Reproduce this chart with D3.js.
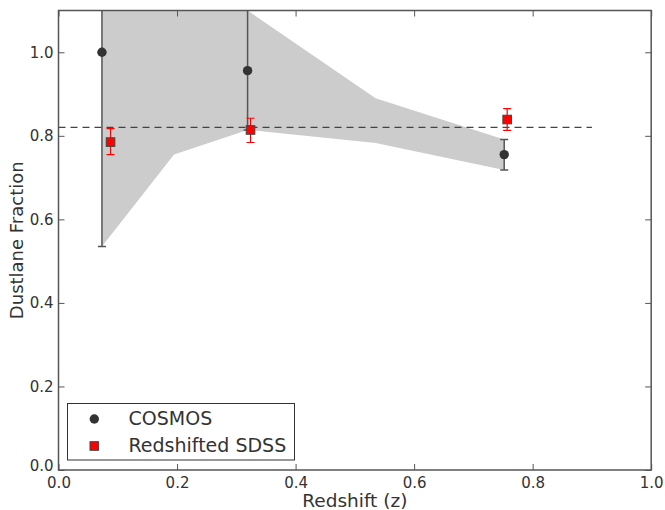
<!DOCTYPE html>
<html><head><meta charset="utf-8">
<script src="https://cdn.jsdelivr.net/npm/d3@7"></script>
<style>body{margin:0;background:#fff;}svg{display:block;font-family:"DejaVu Sans",sans-serif;}</style>
</head><body><svg id="c" width="665" height="510"></svg>
<script>
// COSMOS data
const cosmosZ = [0.0733, 0.319, 0.752];
const cosmosF = [1.0, 0.956, 0.755];
const cosmosLo = [0.535, 0.814, 0.718];
const cosmosHi = [1.465, 1.40, 0.791];
// Redshifted SDSS data
const sdssZ = [0.0878, 0.324, 0.757];
const sdssF = [0.785, 0.814, 0.839];
const sdssLo = [0.755, 0.784, 0.813];
const sdssHi = [0.817, 0.842, 0.865];
// shaded band
const bandZ = [0.0733, 0.195, 0.319, 0.535, 0.752];
const bandLo = [0.535, 0.755, 0.814, 0.783, 0.718];
const bandHi = [1.465, 1.35, 1.10, 0.890, 0.791];
// reference line
const refLevel = 0.82;
const refZ = [0.0, 0.9];
const xTicks = [0.0, 0.2, 0.4, 0.6, 0.8, 1.0];
const yTicks = [0.0, 0.2, 0.4, 0.6, 0.8, 1.0];
const legendLabels = ["COSMOS", "Redshifted SDSS"];

const svg = d3.select("#c");
const L = 58.5, R = 651.2, T = 10.5, B = 470;
const x = d3.scaleLinear().domain([0, 1]).range([L, R]);
const y = d3.scaleLinear().domain([0, 1.1]).range([B, T]);

svg.append("defs").append("clipPath").attr("id", "clip")
  .append("rect").attr("x", L).attr("y", T).attr("width", R - L).attr("height", B - T);
const g = svg.append("g").attr("clip-path", "url(#clip)");

// band
const band = bandZ.map((z, i) => ({z, lo: bandLo[i], hi: bandHi[i]}));
g.append("path").datum(band)
  .attr("d", d3.area().x(d => x(d.z)).y0(d => y(d.lo)).y1(d => y(d.hi)))
  .attr("fill", "#cccccc");

// dashed line
g.append("line").attr("x1", x(refZ[0])).attr("x2", x(refZ[1]))
  .attr("y1", y(refLevel)).attr("y2", y(refLevel))
  .attr("stroke", "#444").attr("stroke-width", 1.2).attr("stroke-dasharray", "7,5");

// COSMOS error bars
const cosmos = cosmosZ.map((z, i) => ({z, f: cosmosF[i], lo: cosmosLo[i], hi: cosmosHi[i]}));
const cg = g.append("g");
cosmos.forEach(d => {
  cg.append("line").attr("x1", x(d.z)).attr("x2", x(d.z)).attr("y1", y(d.lo)).attr("y2", y(d.hi))
    .attr("stroke", "#555").attr("stroke-width", 1.5);
  [d.lo, d.hi].forEach(v => cg.append("line").attr("x1", x(d.z) - 4).attr("x2", x(d.z) + 4)
    .attr("y1", y(v)).attr("y2", y(v)).attr("stroke", "#555").attr("stroke-width", 1.5));
});
cg.selectAll("circle").data(cosmos).join("circle")
  .attr("cx", d => x(d.z)).attr("cy", d => y(d.f)).attr("r", 4.7).attr("fill", "#333");

// SDSS
const sdss = sdssZ.map((z, i) => ({z, f: sdssF[i], lo: sdssLo[i], hi: sdssHi[i]}));
const sg = g.append("g");
sdss.forEach(d => {
  sg.append("line").attr("x1", x(d.z)).attr("x2", x(d.z)).attr("y1", y(d.lo)).attr("y2", y(d.hi))
    .attr("stroke", "#ff0000").attr("stroke-width", 1.2);
  [d.lo, d.hi].forEach(v => sg.append("line").attr("x1", x(d.z) - 4).attr("x2", x(d.z) + 4)
    .attr("y1", y(v)).attr("y2", y(v)).attr("stroke", "#ff0000").attr("stroke-width", 1.2));
});
sg.selectAll("rect").data(sdss).join("rect")
  .attr("x", d => x(d.z) - 4.3).attr("y", d => y(d.f) - 4.3).attr("width", 8.6).attr("height", 8.6)
  .attr("fill", "#ff0000").attr("stroke", "#444").attr("stroke-width", 1);

// axes
const axCol = "#555";
function styleAxis(sel, noText) {
  sel.select(".domain").remove();
  sel.selectAll(".tick line").attr("stroke", axCol).attr("stroke-width", 1);
  sel.selectAll(".tick text").attr("fill", "#333").style("font-size", "15px")
    .style("font-family", "DejaVu Sans");
  if (noText) sel.selectAll(".tick text").remove();
}
const fmt = d3.format(".1f");
svg.append("g").attr("transform", `translate(0,${B})`)
  .call(d3.axisBottom(x).tickValues(xTicks).tickFormat(fmt).tickSizeInner(-6).tickPadding(7))
  .call(s => styleAxis(s));
svg.append("g").attr("transform", `translate(0,${T})`)
  .call(d3.axisTop(x).tickValues(xTicks).tickSizeInner(-6))
  .call(s => styleAxis(s, true));
svg.append("g").attr("transform", `translate(${L},0)`)
  .call(d3.axisLeft(y).tickValues(yTicks).tickFormat(fmt).tickSizeInner(-6).tickPadding(5))
  .call(s => {
    styleAxis(s);
    s.selectAll(".tick text").filter(d => d === 0).attr("dy", "0.05em");
  });
svg.append("g").attr("transform", `translate(${R},0)`)
  .call(d3.axisRight(y).tickValues(yTicks).tickSizeInner(-6))
  .call(s => styleAxis(s, true));
svg.append("rect").attr("x", L).attr("y", T).attr("width", R - L).attr("height", B - T)
  .attr("fill", "none").attr("stroke", axCol).attr("stroke-width", 1.5);

// labels
svg.append("text").attr("x", (L + R) / 2).attr("y", 507).attr("text-anchor", "middle")
  .attr("fill", "#333").style("font-size", "18.5px").text("Redshift (z)");
svg.append("text").attr("transform", `translate(23,${(T + B) / 2}) rotate(-90)`)
  .attr("text-anchor", "middle").attr("fill", "#333").style("font-size", "18px").text("Dustlane Fraction");

// legend
const lg = svg.append("g");
lg.append("rect").attr("x", 67.5).attr("y", 403.5).attr("width", 227).attr("height", 56.5)
  .attr("fill", "#fff").attr("stroke", "#333").attr("stroke-width", 1);
lg.append("circle").attr("cx", 94.3).attr("cy", 419).attr("r", 4.7).attr("fill", "#333");
lg.append("rect").attr("x", 94.3 - 4.3).attr("y", 446 - 4.3).attr("width", 8.6).attr("height", 8.6)
  .attr("fill", "#ff0000").attr("stroke", "#444").attr("stroke-width", 1);
lg.selectAll("text.l").data(legendLabels).join("text").attr("class", "l")
  .attr("x", 128.5).attr("y", (d, i) => 425 + i * 27)
  .attr("fill", "#333").style("font-size", "19px").text(d => d);
</script></body></html>
